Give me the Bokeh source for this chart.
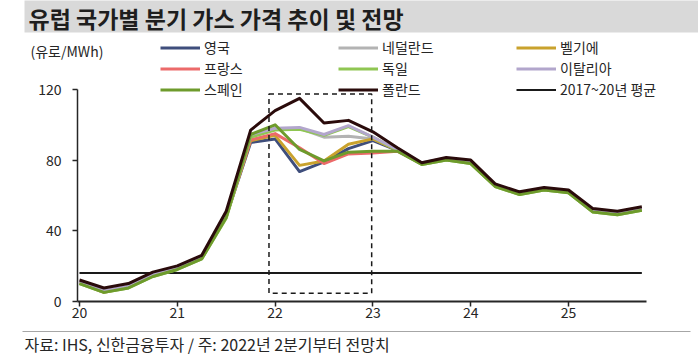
from bokeh.plotting import figure
from bokeh.models import Range1d, FixedTicker, LinearAxis, Legend, LegendItem
from bokeh.core.properties import value
from bokeh.embed import file_html
from bokeh.resources import INLINE

# ---------------- data ----------------
quarter_index = list(range(24))            # 2020Q1 .. 2025Q4
year_tick_positions = [0, 4, 8, 12, 16, 20]
year_tick_labels = ["20", "21", "22", "23", "24", "25"]
y_ticks = [0, 40, 80, 120]

uk = [10.5, 5.5, 8.0, 14.5, 18.5, 24.5, 48.0, 90.0, 92.0, 73.5, 79.0, 86.5,
      91.0, 85.5, 78.0, 80.5, 78.5, 65.5, 61.0, 63.5, 62.0, 51.0, 49.5, 52.0]
france = [10.5, 5.0, 8.0, 14.5, 18.5, 24.5, 48.0, 91.5, 95.0, 87.0, 78.0, 83.5,
          84.0, 85.0, 78.0, 80.5, 78.5, 65.5, 61.0, 63.5, 62.0, 51.0, 49.5, 52.0]
spain = [10.0, 5.0, 7.5, 14.0, 18.0, 24.0, 47.5, 94.5, 100.0, 86.0, 79.5, 84.5,
         85.0, 85.0, 77.5, 80.0, 78.0, 65.0, 60.5, 63.0, 61.5, 50.5, 49.0, 51.5]
netherlands = [10.5, 5.5, 8.0, 15.0, 18.5, 24.5, 48.5, 94.0, 97.5, 98.0, 93.0, 93.5,
               92.0, 86.0, 78.0, 80.5, 78.5, 65.5, 61.0, 63.5, 62.0, 51.0, 49.5, 52.0]
germany = [10.0, 5.0, 7.5, 14.0, 18.0, 24.0, 47.0, 93.0, 97.0, 97.5, 94.0, 99.0,
           93.0, 85.5, 77.5, 80.0, 78.0, 65.0, 60.5, 63.0, 61.5, 50.5, 49.0, 51.5]
belgium = [10.5, 5.5, 8.0, 14.5, 18.5, 24.5, 48.0, 91.0, 94.0, 77.0, 79.5, 89.0,
           92.0, 85.5, 78.0, 80.5, 78.5, 65.5, 61.0, 63.5, 62.0, 51.0, 49.5, 52.0]
italy = [11.0, 6.0, 8.5, 15.0, 19.0, 25.0, 49.0, 94.5, 98.0, 98.5, 94.5, 99.5,
         93.0, 86.0, 78.5, 81.0, 79.0, 66.0, 61.5, 64.0, 62.5, 51.5, 50.0, 52.5]
poland = [12.0, 7.5, 10.0, 16.5, 20.0, 26.0, 51.0, 97.0, 108.0, 115.0, 101.0, 102.5,
          96.0, 87.0, 78.5, 81.5, 80.0, 66.5, 62.0, 64.5, 63.0, 52.5, 51.0, 53.5]
avg_2017_20 = 16.0

title_text = "유럽 국가별 분기 가스 가격 추이 및 전망"
unit_text = "(유로/MWh)"
footer_text = "자료: IHS, 신한금융투자 / 주: 2022년 2분기부터 전망치"

# forecast box (quarter index / value)
box_left, box_right, box_bottom, box_top = 7.75, 11.95, 4.5, 117.5

# ---------------- geometry ----------------
W, H = 698, 364
X0 = 79.0              # canvas px of quarter index 0
PXQ = 24.45            # px per quarter
Y0 = 300.7             # canvas px (from top) of value 0
PXU = 211.7 / 120.0    # px per unit

def dx(fx):
    return (fx - X0) / PXQ

def dy(fy):
    return (Y0 - fy) / PXU

FONT = "Noto Sans CJK KR"
TXT = "#262626"

p = figure(width=W, height=H, x_range=Range1d(dx(0), dx(W)), y_range=Range1d(dy(H), dy(0)),
           min_border=0, toolbar_location=None, output_backend="svg", title=None,
           x_axis_type=None, y_axis_type=None)
p.outline_line_color = None
p.background_fill_color = "white"
p.border_fill_color = "white"

# title band
p.quad(left=[dx(24)], right=[dx(W + 10)], top=[dy(-10)], bottom=[dy(32)],
       fill_color="#D9D9D9", line_color=None)
p.text(x=[dx(28)], y=[dy(17)], text=[title_text], text_font=value(FONT),
       text_font_size="23px", text_font_style="bold", text_color="#1E1E1E",
       text_baseline="middle", text_align="left")

p.text(x=[dx(30)], y=[dy(50)], text=[unit_text], text_font=value(FONT),
       text_font_size="14px", text_color=TXT, text_baseline="middle", text_align="left")

# footer
p.line(x=[dx(22), dx(690)], y=[dy(331)] * 2, line_color="#A6A6A6", line_width=1)
p.text(x=[dx(24)], y=[dy(343)], text=[footer_text], text_font=value(FONT),
       text_font_size="16px", text_color=TXT, text_baseline="middle", text_align="left")

# axes
yaxis = LinearAxis(fixed_location=dx(77), bounds=(0, 120), ticker=FixedTicker(ticks=y_ticks))
yaxis.axis_line_color = TXT
yaxis.axis_line_width = 1.5
yaxis.major_tick_line_color = TXT
yaxis.major_tick_line_width = 1.5
yaxis.major_tick_in = 0
yaxis.major_tick_out = 5
yaxis.minor_tick_line_color = None
yaxis.major_label_standoff = 11
yaxis.major_label_text_font = FONT
yaxis.major_label_text_font_size = "14px"
yaxis.major_label_text_color = TXT
p.add_layout(yaxis, "left")

xaxis = LinearAxis(fixed_location=0, bounds=(dx(77), dx(646)),
                   ticker=FixedTicker(ticks=year_tick_positions))
xaxis.major_label_overrides = {t: l for t, l in zip(year_tick_positions, year_tick_labels)}
xaxis.axis_line_color = TXT
xaxis.axis_line_width = 2
xaxis.major_tick_line_color = TXT
xaxis.major_tick_line_width = 1.5
xaxis.major_tick_in = 0
xaxis.major_tick_out = 5
xaxis.minor_tick_line_color = None
xaxis.major_label_standoff = 1
xaxis.major_label_text_font = FONT
xaxis.major_label_text_font_size = "14px"
xaxis.major_label_text_color = TXT
p.add_layout(xaxis, "below")

# average line
r_avg = p.line(x=[quarter_index[0], quarter_index[-1]], y=[avg_2017_20, avg_2017_20],
               line_color="#1A1A1A", line_width=2)

# series (draw order)
colors = {
    "영국": "#3F4E7C", "네덜란드": "#B3B3B3", "벨기에": "#C9A22D", "프랑스": "#EC6A6A",
    "독일": "#8FC652", "이탈리아": "#B2A6CC", "스페인": "#6E9B2C", "폴란드": "#2A0B0B",
}
series = [("영국", uk), ("네덜란드", netherlands), ("벨기에", belgium), ("프랑스", france),
          ("독일", germany), ("이탈리아", italy), ("스페인", spain), ("폴란드", poland)]
renderers = {}
for name, vals in series:
    renderers[name] = p.line(x=quarter_index, y=vals, line_color=colors[name], line_width=3,
                             line_join="round")

# forecast dashed box
p.quad(left=[box_left], right=[box_right], bottom=[box_bottom], top=[box_top],
       fill_color=None, line_color="#1A1A1A", line_width=1.5, line_dash="5 4")

# legend: three columns
columns = [
    (160, [("영국", renderers["영국"]), ("프랑스", renderers["프랑스"]), ("스페인", renderers["스페인"])]),
    (338, [("네덜란드", renderers["네덜란드"]), ("독일", renderers["독일"]), ("폴란드", renderers["폴란드"])]),
    (516, [("벨기에", renderers["벨기에"]), ("이탈리아", renderers["이탈리아"]), ("2017~20년 평균", r_avg)]),
]
ROW_H = 17
LEG_TOP = 46
leg_h = 3 * ROW_H + 2 * 1
for x_left, its in columns:
    legend = Legend(items=[LegendItem(label=n, renderers=[r]) for n, r in its],
                    location=(x_left, H - (LEG_TOP + leg_h)), orientation="vertical",
                    glyph_width=40, glyph_height=ROW_H, label_height=ROW_H,
                    label_standoff=4, spacing=1, padding=0, margin=0,
                    label_text_font=FONT, label_text_font_size="14px", label_text_color=TXT,
                    border_line_color=None, background_fill_alpha=0)
    p.add_layout(legend, "center")

open("out.html", "w").write(file_html(p, INLINE))
